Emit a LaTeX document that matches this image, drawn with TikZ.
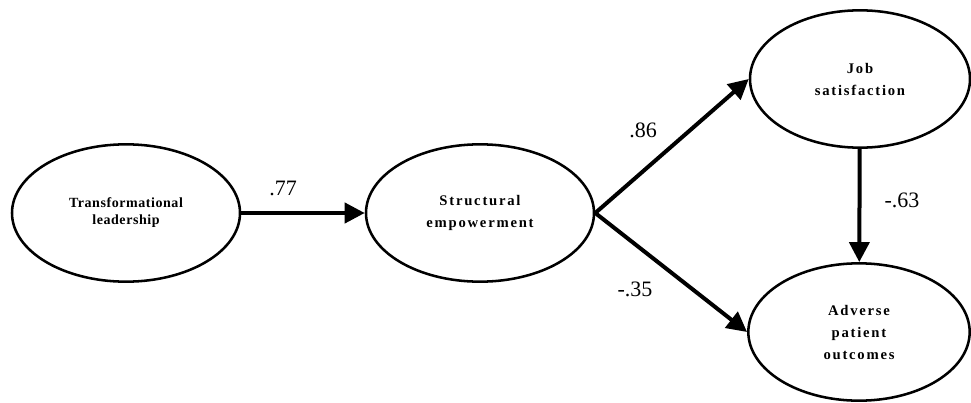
\documentclass[tikz,border=0pt]{standalone}
\usepackage{fontspec}
\setmainfont{Liberation Serif}
\usetikzlibrary{arrows.meta, shapes.geometric}

\begin{document}
\begin{tikzpicture}[x=0.75pt, y=-0.75pt,
  latent/.style={draw, shape=ellipse, line width=1.9pt, inner sep=0pt, align=center,
    minimum width=171pt, minimum height=103pt,
    font=\bfseries\fontsize{11}{16.5}\selectfont\addfontfeature{LetterSpace=12}},
  effect/.style={-{Triangle[length=15pt, width=15pt]}, line width=3pt},
  coef/.style={font=\fontsize{16.5}{19}\selectfont}]
\useasboundingbox (0,0) rectangle (971,403);
% Define nodes
\path
(126,213) node[latent, font=\bfseries\fontsize{10.5}{12.75}\selectfont\addfontfeature{LetterSpace=4}] (lead) {Transformational\\leadership}
(480,213) node[latent] (empow) {Structural\\empowerment}
(860,79) node[latent, minimum width=165pt] (jobsat) {Job\\satisfaction}
(859,332) node[latent, minimum width=166pt] (adverse) {Adverse\\patient\\outcomes}
;

\draw[effect] (lead) -- (empow);
\draw[effect] (empow.east) -- (jobsat.west);
\draw[effect] (empow.east) -- (adverse.west);
\draw[effect] (jobsat) -- (adverse);

\path[coef]
(283,188) node (c77) {.77}
(643,130) node (c86) {.86}
(635,289) node (c35) {-.35}
(902,200) node (c63) {-.63}
;

\end{tikzpicture}
\end{document}
